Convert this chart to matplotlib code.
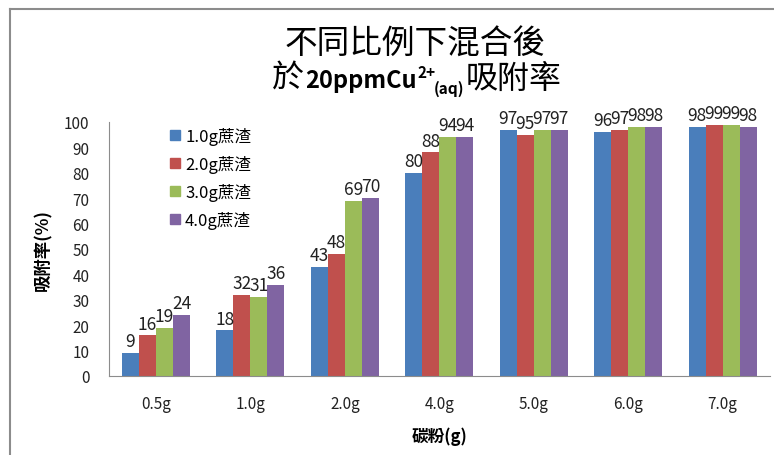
import numpy as np
import matplotlib.pyplot as plt
from matplotlib.lines import Line2D

plt.rcParams['font.family'] = ['Noto Sans CJK TC', 'DejaVu Sans']

# adsorption rate (%) for each carbon-powder mass, one list per bagasse mass
carbon = ['0.5g', '1.0g', '2.0g', '4.0g', '5.0g', '6.0g', '7.0g']
bagasse = ['1.0g蔗渣', '2.0g蔗渣', '3.0g蔗渣', '4.0g蔗渣']
rate_1g = [9, 18, 43, 80, 97, 96, 98]
rate_2g = [16, 32, 48, 88, 95, 97, 99]
rate_3g = [19, 31, 69, 94, 97, 98, 99]
rate_4g = [24, 36, 70, 94, 97, 98, 98]
colors = ['#4a7ebb', '#c0504d', '#9bbb59', '#8064a2']

W, H = 774, 456
fig = plt.figure(figsize=(W / 100, H / 100), dpi=100)
ax = fig.add_axes([108.75 / W, 1 - 377 / H, 661 / W, 254 / H])

x = np.arange(len(carbon))
bw = 0.18
for i, (vals, c, lab) in enumerate(zip([rate_1g, rate_2g, rate_3g, rate_4g], colors, bagasse)):
    bars = ax.bar(x + (i - 1.5) * bw, vals, bw, color=c, label=lab)
    ax.bar_label(bars, padding=2, fontsize=12.5, color='#222222')

ax.set_xlim(-0.5, len(carbon) - 0.5)
ax.set_ylim(0, 100)
ax.set_yticks(range(0, 101, 10))
ax.set_xticks(x, carbon)
ax.tick_params(length=0, labelsize=11, colors='#222222')
ax.tick_params(axis='y', pad=14)
ax.tick_params(axis='x', pad=14)
for s in ['top', 'right']:
    ax.spines[s].set_visible(False)
for s in ['left', 'bottom']:
    ax.spines[s].set_color('#8c8c8c')

ax.set_xlabel('碳粉(g)', fontsize=12, fontweight='bold', labelpad=10)
ax.set_ylabel('吸附率(%)', fontsize=12.5, fontweight='bold', labelpad=8)

handles = [plt.Rectangle((0, 0), 1, 1, color=c) for c in colors]
ax.legend(handles, bagasse, loc='upper left', bbox_to_anchor=(0.07, 1.04),
          frameon=False, fontsize=12, handlelength=0.6, handleheight=0.6,
          handletextpad=0.3, labelspacing=0.6)

# title, first line
fig.text(415 / W, 1 - 45 / H, '不同比例下混合後', fontsize=23.5, ha='center', va='center')

# title, second line built from pieces so the Cu ion can carry its charge and state
pieces = [('於', 'normal', 23, 0, 0), ('20ppmCu', 'bold', 17, 0, 1),
          ('2+', 'bold', 11, 10, 0), ('(aq)', 'bold', 11, -6, -1),
          ('吸附率', 'normal', 23, 0, 1)]
base_y = H - 88
texts = [fig.text(0, 0, p[0], fontsize=p[2], fontweight=p[1], va='baseline', ha='left',
                  transform=None) for p in pieces]
renderer = fig.canvas.get_renderer()
widths = [t.get_window_extent(renderer).width for t in texts]
total = sum(widths) + sum(p[4] for p in pieces)
cur = 417 - total / 2
for t, w, (s, fw, fs, dy, dx) in zip(texts, widths, pieces):
    cur += dx
    t.set_position((cur, base_y + dy))
    cur += w

# outer chart frame
fig.add_artist(Line2D([10 / W, 10 / W], [0, 1 - 10 / H], color='#8c8c8c', lw=1.5))
fig.add_artist(Line2D([10 / W, 1], [1 - 10 / H, 1 - 10 / H], color='#8c8c8c', lw=1.5))

fig.savefig('out.png', dpi=100)
